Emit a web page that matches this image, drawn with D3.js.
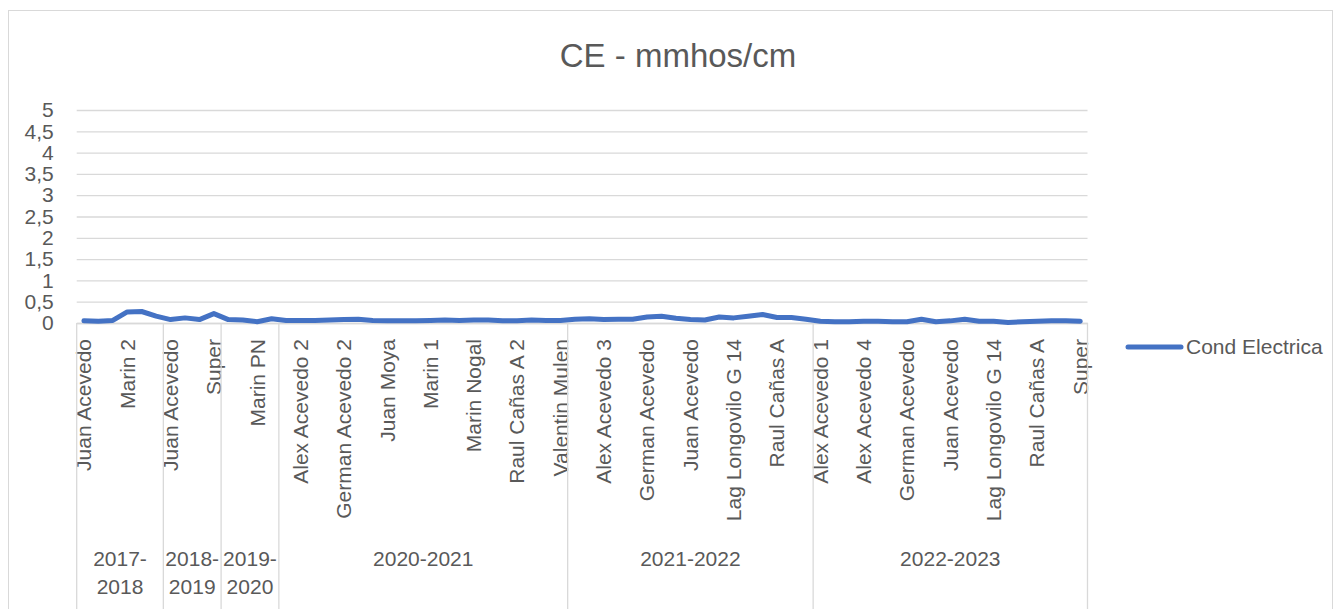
<!DOCTYPE html>
<html>
<head>
<meta charset="utf-8">
<script src="https://cdn.jsdelivr.net/npm/d3@7/dist/d3.min.js"></script>
<style>
  html, body { margin: 0; padding: 0; background: #ffffff; }
  svg { display: block; font-family: "Liberation Sans", Arial, sans-serif; }
</style>
</head>
<body>
<svg id="chart" width="1340" height="609"></svg>
<script>
// ---- data ----
const chartTitle = "CE - mmhos/cm";
const seriesName = "Cond Electrica";

// season groups (outer category level) and how many samples each holds
const groupNames = ["2017-2018", "2018-2019", "2019-2020", "2020-2021", "2021-2022", "2022-2023"];
const groupSizes = [6, 4, 4, 20, 17, 19];

// inner category labels that are printed (every 3rd sample)
const tickLabels = [
  "Juan Acevedo", "Marin 2",
  "Juan Acevedo", "Super",
  "Marin PN",
  "Alex Acevedo 2", "German Acevedo 2", "Juan Moya", "Marin 1", "Marin Nogal", "Raul Cañas A 2", "Valentin Mulen",
  "Alex Acevedo 3", "German Acevedo", "Juan Acevedo", "Lag Longovilo G 14", "Raul Cañas A",
  "Alex Acevedo 1", "Alex Acevedo 4", "German Acevedo", "Juan Acevedo", "Lag Longovilo G 14", "Raul Cañas A", "Super"
];
const tickEvery = 3;

// Cond Electrica values (mmhos/cm), one per sample
const values = [
  0.05, 0.04, 0.06, 0.26, 0.27, 0.16,
  0.08, 0.12, 0.08, 0.22,
  0.08, 0.07, 0.03, 0.10,
  0.06, 0.06, 0.06, 0.07, 0.08, 0.09, 0.06, 0.05, 0.05, 0.05, 0.06, 0.07, 0.06, 0.07, 0.07, 0.05, 0.05, 0.07, 0.06, 0.06,
  0.09, 0.10, 0.08, 0.09, 0.09, 0.14, 0.16, 0.11, 0.08, 0.07, 0.14, 0.12, 0.16, 0.20, 0.13, 0.13, 0.09,
  0.04, 0.03, 0.03, 0.04, 0.04, 0.03, 0.03, 0.09, 0.03, 0.05, 0.09, 0.04, 0.04, 0.01, 0.03, 0.04, 0.05, 0.05, 0.04
];
const yTicks = [0, 0.5, 1, 1.5, 2, 2.5, 3, 3.5, 4, 4.5, 5];

// ---- layout ----
const svg = d3.select("#chart");
const W = 1340, H = 609;
const plot = { left: 76.7, right: 1087.5, top: 110, bottom: 323 };
const textColor = "#595959";
const gridColor = "#d9d9d9";
const lineColor = "#4472C4";
const fontSize = 21;

// outer chart border
svg.append("rect")
  .attr("x", 8.5).attr("y", 10.5)
  .attr("width", 1324).attr("height", 700)
  .attr("fill", "none").attr("stroke", gridColor).attr("stroke-width", 1);

// title
svg.append("text")
  .attr("x", 678).attr("y", 67)
  .attr("text-anchor", "middle")
  .attr("fill", textColor)
  .style("font-size", "33px")
  .text(chartTitle);

const n = values.length;
const x = d3.scaleBand().domain(d3.range(n)).range([plot.left, plot.right]).paddingInner(0).paddingOuter(0);
const y = d3.scaleLinear().domain([0, 5]).range([plot.bottom, plot.top]);

const locale = d3.formatLocale({ decimal: ",", thousands: ".", grouping: [3], currency: ["", ""] });
const fmt = locale.format("~f");

// y axis with gridlines
const yAxis = d3.axisLeft(y)
  .tickValues(yTicks)
  .tickSize(-(plot.right - plot.left))
  .tickPadding(23)
  .tickFormat(fmt);
const gy = svg.append("g")
  .attr("transform", `translate(${plot.left},0)`)
  .call(yAxis);
gy.select(".domain").remove();
gy.selectAll(".tick line").attr("stroke", gridColor).attr("stroke-width", 1.3);
gy.selectAll(".tick text")
  .attr("fill", textColor)
  .style("font-size", fontSize + "px")
  .style("font-family", '"Liberation Sans", Arial, sans-serif');

// x axis (inner level): labels every 3rd sample, rotated
const tickIdx = d3.range(0, n, tickEvery);
const xAxis = d3.axisBottom(x)
  .tickValues(tickIdx)
  .tickSize(0)
  .tickFormat((d, i) => tickLabels[i]);
const gx = svg.append("g")
  .attr("transform", `translate(0,${plot.bottom})`)
  .call(xAxis);
gx.select(".domain")
  .attr("stroke", gridColor).attr("stroke-width", 1.3);
gx.selectAll(".tick text")
  .attr("fill", textColor)
  .style("font-size", fontSize + "px")
  .style("font-family", '"Liberation Sans", Arial, sans-serif')
  .attr("text-anchor", "end")
  .attr("transform", "translate(0,16) rotate(-90)")
  .attr("x", 0).attr("y", 0)
  .attr("dy", "0.35em");

// outer level: group separators and labels
let starts = [0];
groupSizes.forEach((s, i) => starts.push(starts[i] + s));
const bounds = starts.map(s => s < n ? x(s) : plot.right);
svg.append("g").selectAll("line")
  .data(bounds)
  .join("line")
  .attr("x1", d => d).attr("x2", d => d)
  .attr("y1", plot.bottom).attr("y2", H + 2)
  .attr("stroke", gridColor).attr("stroke-width", 1.3);

const gl = svg.append("g")
  .attr("fill", textColor)
  .style("font-size", fontSize + "px")
  .attr("text-anchor", "middle");
groupNames.forEach((name, i) => {
  const cx = (bounds[i] + bounds[i + 1]) / 2;
  const wide = bounds[i + 1] - bounds[i] > 110;
  const lines = wide ? [name] : [name.slice(0, 5), name.slice(5)];
  const t = gl.append("text").attr("x", cx).attr("y", 565.5);
  lines.forEach((ln, k) => {
    t.append("tspan").attr("x", cx).attr("y", 565.5 + k * 28.5).text(ln);
  });
});

// series line
const line = d3.line()
  .x((d, i) => x(i) + x.bandwidth() / 2)
  .y(d => y(d));
svg.append("path")
  .datum(values)
  .attr("d", line)
  .attr("fill", "none")
  .attr("stroke", lineColor)
  .attr("stroke-width", 5)
  .attr("stroke-linejoin", "round")
  .attr("stroke-linecap", "round");

// legend
const lg = svg.append("g");
lg.append("line")
  .attr("x1", 1128).attr("x2", 1181)
  .attr("y1", 347).attr("y2", 347)
  .attr("stroke", lineColor).attr("stroke-width", 5)
  .attr("stroke-linecap", "round");
lg.append("text")
  .attr("x", 1186).attr("y", 347)
  .attr("dy", "0.35em")
  .attr("fill", textColor)
  .style("font-size", fontSize + "px")
  .text(seriesName);
</script>
</body>
</html>
